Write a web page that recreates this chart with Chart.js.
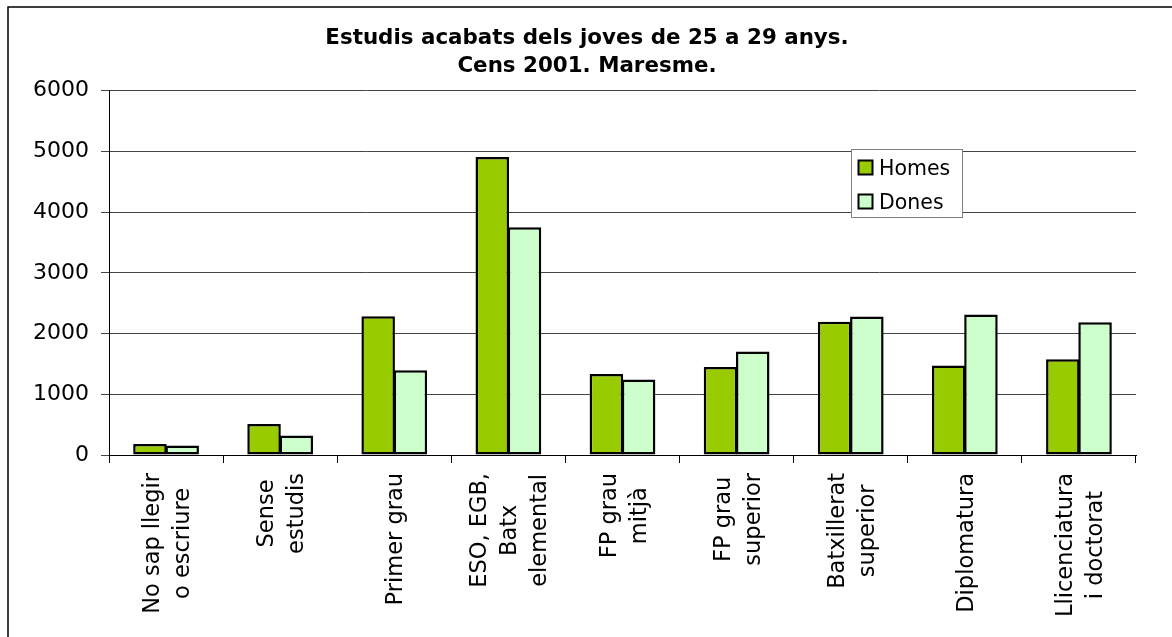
<!DOCTYPE html>
<html>
<head>
<meta charset="utf-8">
<script src="https://cdn.jsdelivr.net/npm/chart.js@4/dist/chart.umd.min.js"></script>
<style>
  html, body { margin: 0; padding: 0; background: #fff; }
  #wrap { width: 1172px; height: 637px; position: relative; }
</style>
</head>
<body>
<div id="wrap"><canvas id="c" width="1172" height="637"></canvas></div>
<script>
const titleLines = ["Estudis acabats dels joves de 25 a 29 anys.", "Cens 2001. Maresme."];
const categories = [
  ["No sap llegir", "o escriure"],
  ["Sense", "estudis"],
  ["Primer grau"],
  ["ESO, EGB,", "Batx", "elemental"],
  ["FP grau", "mitjà"],
  ["FP grau", "superior"],
  ["Batxillerat", "superior"],
  ["Diplomatura"],
  ["Llicenciatura", "i doctorat"]
];
const homes = [180, 510, 2285, 4910, 1335, 1450, 2195, 1475, 1575];
const dones = [155, 320, 1395, 3750, 1245, 1705, 2280, 2315, 2185];
const seriesNames = ["Homes", "Dones"];
const yTicks = [0, 1000, 2000, 3000, 4000, 5000, 6000];

const FONT = "'DejaVu Sans', Verdana, sans-serif";
Chart.defaults.font.family = FONT;
Chart.defaults.color = '#000';

const bgPlugin = {
  id: 'bg',
  beforeDraw(chart) {
    const ctx = chart.ctx;
    ctx.save();
    ctx.fillStyle = '#fff';
    ctx.fillRect(0, 0, chart.width, chart.height);
    ctx.strokeStyle = '#000';
    ctx.lineWidth = 1.5;
    ctx.strokeRect(8, 7, 3000, 3000);
    ctx.restore();
  }
};

const titlePlugin = {
  id: 'ctitle',
  afterDraw(chart) {
    const ctx = chart.ctx;
    ctx.save();
    ctx.font = 'bold 21.4px ' + FONT;
    ctx.fillStyle = '#000';
    ctx.textAlign = 'center';
    ctx.textBaseline = 'alphabetic';
    titleLines.forEach((t, i) => ctx.fillText(t, 587, 43.5 + i * 28.7));
    ctx.restore();
  }
};

const xLabelPlugin = {
  id: 'xlabels',
  afterDraw(chart) {
    const ctx = chart.ctx;
    const xs = chart.scales.x;
    ctx.save();
    ctx.font = '22.5px ' + FONT;
    ctx.fillStyle = '#000';
    categories.forEach((lines, i) => {
      const cx = xs.getPixelForValue(i);
      const W = Math.max(...lines.map(l => ctx.measureText(l).width));
      const cy = xs.top + 18 + W / 2;
      lines.forEach((l, j) => {
        const lx = cx + (j - (lines.length - 1) / 2) * 30;
        ctx.save();
        ctx.translate(lx, cy);
        ctx.rotate(-Math.PI / 2);
        ctx.textAlign = 'center';
        ctx.textBaseline = 'alphabetic';
        ctx.fillText(l, 0, 8);
        ctx.restore();
      });
    });
    ctx.restore();
  }
};

const legendPlugin = {
  id: 'boxlegend',
  afterDraw(chart) {
    const ctx = chart.ctx;
    ctx.save();
    ctx.fillStyle = '#fff';
    ctx.fillRect(851, 149, 111, 68);
    ctx.strokeStyle = '#808080';
    ctx.lineWidth = 1;
    ctx.strokeRect(851.5, 149.5, 111, 68);
    ctx.font = '20.5px ' + FONT;
    ctx.textBaseline = 'alphabetic';
    ctx.textAlign = 'left';
    chart.data.datasets.forEach((ds, i) => {
      const y = 160.5 + i * 34;
      ctx.fillStyle = ds.backgroundColor;
      ctx.fillRect(858.5, y, 14, 14);
      ctx.strokeStyle = '#000';
      ctx.lineWidth = 2;
      ctx.strokeRect(858.5, y, 14, 14);
      ctx.fillStyle = '#000';
      ctx.fillText(ds.label, 879, y + 14);
    });
    ctx.restore();
  }
};

new Chart(document.getElementById('c'), {
  type: 'bar',
  data: {
    labels: categories.map(l => l.join(' ')),
    datasets: [
      { label: seriesNames[0], data: homes, backgroundColor: '#99CC00', borderColor: '#000', borderWidth: 2.5, borderSkipped: false },
      { label: seriesNames[1], data: dones, backgroundColor: '#CCFFCC', borderColor: '#000', borderWidth: 2.5, borderSkipped: false }
    ]
  },
  options: {
    responsive: false,
    animation: false,
    layout: { padding: { top: 90.7, right: 36, bottom: 0, left: 0 } },
    datasets: { bar: { categoryPercentage: 0.565, barPercentage: 1.04 } },
    plugins: {
      legend: { display: false },
      tooltip: { enabled: false },
      title: { display: false }
    },
    scales: {
      x: {
        grid: { display: true, drawOnChartArea: false, drawTicks: true, tickLength: 8, color: '#000', offset: true },
        border: { display: true, color: '#000', width: 1 },
        ticks: { display: false },
        afterFit(scale) { scale.height = 182; }
      },
      y: {
        min: 0, max: 6000,
        afterBuildTicks(scale) { scale.ticks = yTicks.map(v => ({ value: v })); },
        grid: { color: '#444', drawTicks: true, tickLength: 8 },
        border: { display: true, color: '#000', width: 1 },
        ticks: { padding: 12, font: { size: 22 }, color: '#000', callback: v => String(v) },
        afterFit(scale) { scale.width = 109; }
      }
    }
  },
  plugins: [bgPlugin, titlePlugin, xLabelPlugin, legendPlugin]
});
</script>
</body>
</html>
